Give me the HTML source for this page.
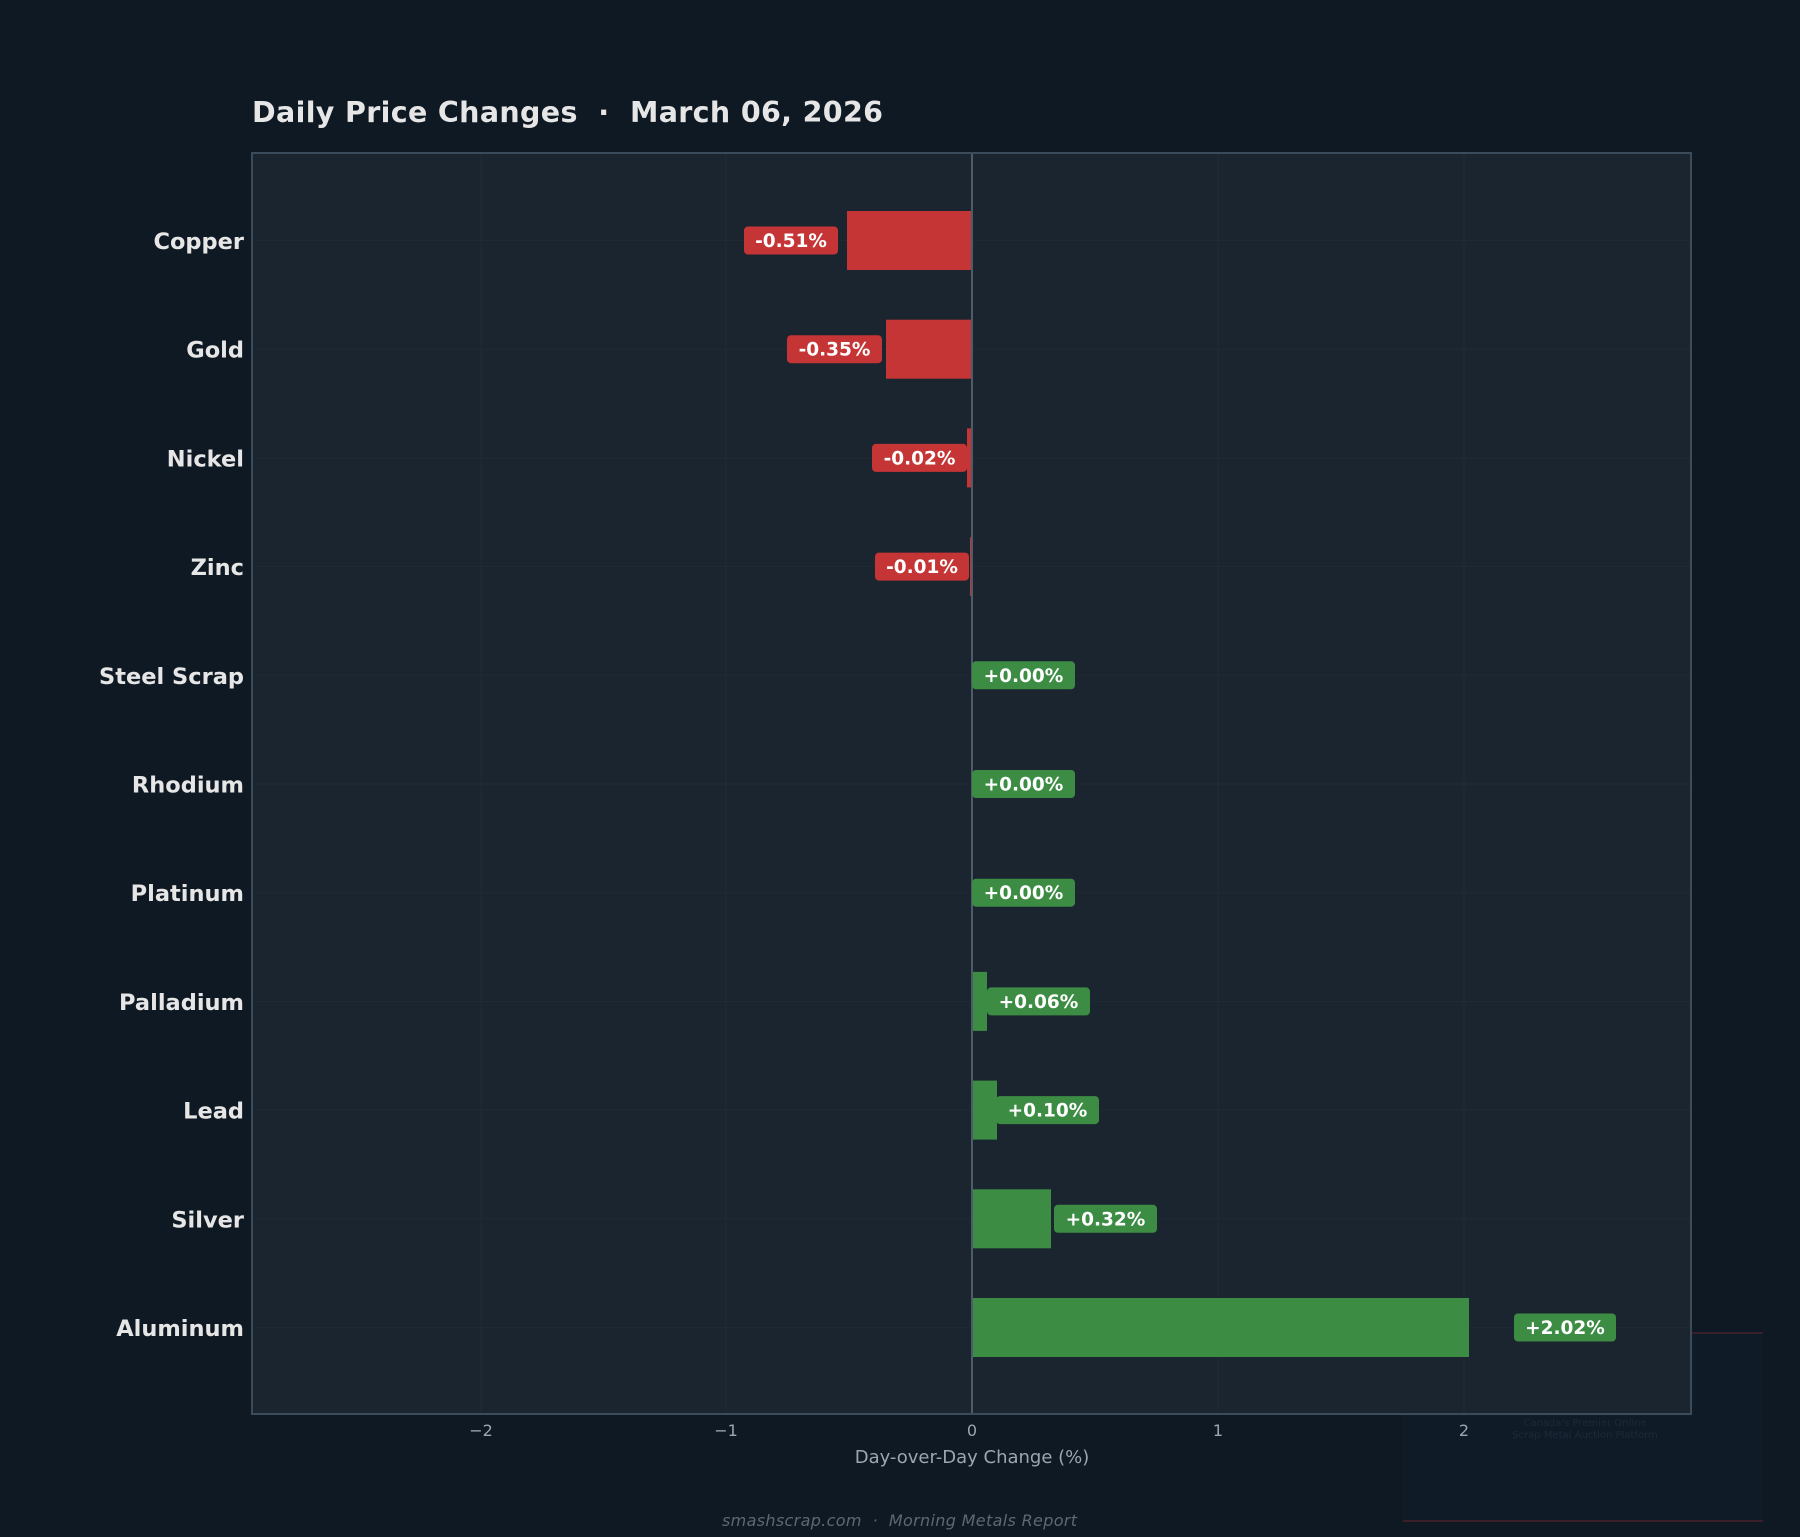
<!DOCTYPE html>
<html><head><meta charset="utf-8"><style>
html,body{margin:0;padding:0;background:#0f1923;}
svg{display:block;font-family:"DejaVu Sans","Liberation Sans",sans-serif;}
text{white-space:pre;}
</style></head><body>
<svg width="1800" height="1537" viewBox="0 0 1800 1537" xmlns="http://www.w3.org/2000/svg" xml:space="preserve">
<rect width="1800" height="1537" fill="#0f1923"/>
<rect x="1403" y="1333" width="360" height="188" fill="#101b28"/>
<line x1="1403" y1="1333" x2="1763" y2="1333" stroke="#3a1f28" stroke-width="2"/>
<line x1="1403" y1="1521" x2="1763" y2="1521" stroke="#3a1f28" stroke-width="2"/>
<text x="1585" y="1426" font-size="10" fill="#1c2a38" text-anchor="middle">Canada's Premier Online</text>
<text x="1585" y="1438" font-size="10" fill="#1c2a38" text-anchor="middle">Scrap Metal Auction Platform</text>
<text x="252" y="122" font-size="28.5" font-weight="bold" fill="#e6e6e6" textLength="631" lengthAdjust="spacing">Daily Price Changes  ·  March 06, 2026</text>
<rect x="252" y="153" width="1439" height="1261" fill="#1b2530" stroke="#3b4b5a" stroke-width="2"/>
<g stroke="#1f2b34" stroke-width="1">
<line x1="481" y1="154" x2="481" y2="1413"/><line x1="726" y1="154" x2="726" y2="1413"/>
<line x1="1218" y1="154" x2="1218" y2="1413"/><line x1="1464" y1="154" x2="1464" y2="1413"/>
<line x1="253" y1="240.5" x2="1690" y2="240.5"/><line x1="253" y1="349.2" x2="1690" y2="349.2"/>
<line x1="253" y1="457.9" x2="1690" y2="457.9"/><line x1="253" y1="566.6" x2="1690" y2="566.6"/>
<line x1="253" y1="675.3" x2="1690" y2="675.3"/><line x1="253" y1="784" x2="1690" y2="784"/>
<line x1="253" y1="892.7" x2="1690" y2="892.7"/><line x1="253" y1="1001.4" x2="1690" y2="1001.4"/>
<line x1="253" y1="1110.1" x2="1690" y2="1110.1"/><line x1="253" y1="1218.8" x2="1690" y2="1218.8"/>
<line x1="253" y1="1327.5" x2="1690" y2="1327.5"/>
</g>
<g>
<rect x="847" y="211" width="125" height="59" fill="#c53535"/>
<rect x="886" y="319.7" width="86" height="59" fill="#c53535"/>
<rect x="967" y="428.4" width="5" height="59" fill="#c53535"/>
<rect x="970" y="537.1" width="2" height="59" fill="#c53535"/>
<rect x="972" y="971.9" width="15" height="59" fill="#3c8c44"/>
<rect x="972" y="1080.6" width="25" height="59" fill="#3c8c44"/>
<rect x="972" y="1189.3" width="79" height="59" fill="#3c8c44"/>
<rect x="972" y="1298" width="497" height="59" fill="#3c8c44"/>
</g>
<line x1="972" y1="154" x2="972" y2="1413" stroke="#4e5c6a" stroke-width="2"/>
<g font-size="18.5" font-weight="bold" fill="#ffffff" text-anchor="middle">
<rect x="744" y="226.5" width="94" height="28" rx="4" fill="#c53535"/><text x="791" y="247">-0.51%</text>
<rect x="787" y="335.2" width="95" height="28" rx="4" fill="#c53535"/><text x="834.5" y="355.7">-0.35%</text>
<rect x="872" y="443.9" width="95" height="28" rx="4" fill="#c53535"/><text x="919.5" y="464.4">-0.02%</text>
<rect x="875" y="552.6" width="94" height="28" rx="4" fill="#c53535"/><text x="922" y="573.1">-0.01%</text>
<rect x="972" y="661.3" width="103" height="28" rx="4" fill="#3c8c44"/><text x="1023.5" y="681.8">+0.00%</text>
<rect x="972" y="770" width="103" height="28" rx="4" fill="#3c8c44"/><text x="1023.5" y="790.5">+0.00%</text>
<rect x="972" y="878.7" width="103" height="28" rx="4" fill="#3c8c44"/><text x="1023.5" y="899.2">+0.00%</text>
<rect x="987" y="987.4" width="103" height="28" rx="4" fill="#3c8c44"/><text x="1038.5" y="1007.9">+0.06%</text>
<rect x="996" y="1096.1" width="103" height="28" rx="4" fill="#3c8c44"/><text x="1047.5" y="1116.6">+0.10%</text>
<rect x="1054" y="1204.8" width="103" height="28" rx="4" fill="#3c8c44"/><text x="1105.5" y="1225.3">+0.32%</text>
<rect x="1514" y="1313.5" width="102" height="28" rx="4" fill="#3c8c44"/><text x="1565" y="1334">+2.02%</text>
</g>
<g font-size="22.5" font-weight="bold" fill="#e6e6e6" text-anchor="end">
<text x="244" y="249">Copper</text><text x="244" y="357.7">Gold</text><text x="244" y="466.4">Nickel</text>
<text x="244" y="575.1">Zinc</text><text x="244" y="683.8">Steel Scrap</text><text x="244" y="792.5">Rhodium</text>
<text x="244" y="901.2">Platinum</text><text x="244" y="1009.9">Palladium</text><text x="244" y="1118.6">Lead</text>
<text x="244" y="1227.3">Silver</text><text x="244" y="1336">Aluminum</text>
</g>
<g font-size="16" fill="#9aa6b2" text-anchor="middle">
<text x="481" y="1436">−2</text><text x="726" y="1436">−1</text><text x="972" y="1436">0</text>
<text x="1218" y="1436">1</text><text x="1464" y="1436">2</text>
</g>
<text x="972" y="1463" font-size="18" fill="#9aa6b2" text-anchor="middle">Day-over-Day Change (%)</text>
<text x="722" y="1526" font-size="16" font-style="italic" fill="#5c6875" textLength="355" lengthAdjust="spacing">smashscrap.com  ·  Morning Metals Report</text>
</svg>
</body></html>
